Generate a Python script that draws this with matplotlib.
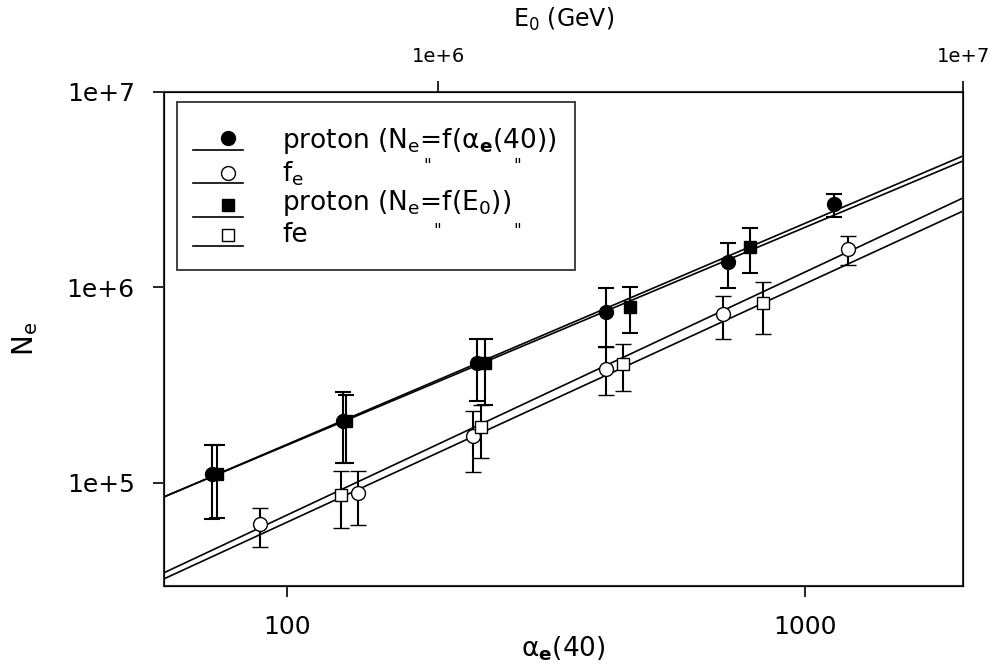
import numpy as np
import matplotlib
matplotlib.use("Agg")
import matplotlib.pyplot as plt
from matplotlib.patches import Rectangle
from matplotlib.ticker import FixedLocator, NullLocator

plt.rcParams['font.family'] = ['DejaVu Sans']
plt.rcParams['mathtext.fontset'] = 'custom'
plt.rcParams['mathtext.rm'] = 'DejaVu Sans'
plt.rcParams['mathtext.it'] = 'DejaVu Sans:italic'
plt.rcParams['mathtext.bf'] = 'DejaVu Sans:bold'

# proton, Ne = f(alpha_e(40))
alpha_p = [71.7, 128.3, 232.7, 413, 710, 1137]
ne_p = [1.11e5, 2.07e5, 4.11e5, 7.49e5, 1.35e6, 2.67e6]
ne_p_hi = [1.56e5, 2.92e5, 5.46e5, 9.94e5, 1.69e6, 3.01e6]
ne_p_lo = [6.55e4, 1.27e5, 2.62e5, 4.97e5, 9.94e5, 2.30e6]

# fe, Ne = f(alpha_e(40))
alpha_fe = [88.7, 137, 228.5, 413, 695, 1211]
ne_fe = [6.17e4, 8.89e4, 1.74e5, 3.83e5, 7.32e5, 1.57e6]
ne_fe_hi = [7.45e4, 1.15e5, 2.33e5, 4.97e5, 9.05e5, 1.83e6]
ne_fe_lo = [4.71e4, 6.10e4, 1.14e5, 2.82e5, 5.46e5, 1.30e6]

# proton, Ne = f(E0)
e0_p = [3.79e5, 6.66e5, 1.229e6, 2.32e6, 3.93e6]
ne_pe = [1.11e5, 2.07e5, 4.11e5, 7.94e5, 1.61e6]
ne_pe_hi = [1.56e5, 2.82e5, 5.46e5, 1.01e6, 2.01e6]
ne_pe_lo = [6.62e4, 1.27e5, 2.51e5, 5.85e5, 1.19e6]

# fe, Ne = f(E0)
e0_fe = [6.53e5, 1.208e6, 2.25e6, 4.16e6]
ne_fee = [8.68e4, 1.93e5, 4.06e5, 8.34e5]
ne_fee_hi = [1.15e5, 2.51e5, 5.14e5, 1.07e6]
ne_fee_lo = [5.89e4, 1.34e5, 2.96e5, 5.78e5]

# fitted lines (end points, alpha axis)
fit_x = [57.9, 2018]
fit_p1 = [8.48e4, 4.71e6]
fit_p2 = [8.48e4, 4.44e6]
fit_fe1 = [3.47e4, 2.87e6]
fit_fe2 = [3.23e4, 2.46e6]

fig = plt.figure(figsize=(9.92, 6.68), dpi=100)
ax = fig.add_axes([0.1653, 0.1228, 0.8055, 0.7395])
ax.set_xscale('log')
ax.set_yscale('log')
ax.set_xlim(57.9, 2018)
ax.set_ylim(2.97e4, 1e7)

for fy in [fit_p1, fit_p2, fit_fe1, fit_fe2]:
    ax.plot(fit_x, fy, color='black', lw=1.2, zorder=2)


def yerr(v, lo, hi):
    v = np.array(v)
    return [v - np.array(lo), np.array(hi) - v]


ebkw = dict(ecolor='black', elinewidth=1.5, capsize=6, capthick=1.5, ls='none', zorder=3)
ax.errorbar(alpha_p, ne_p, yerr=yerr(ne_p, ne_p_lo, ne_p_hi), fmt='o', ms=10,
            mfc='black', mec='black', **ebkw)
ax.errorbar(alpha_fe, ne_fe, yerr=yerr(ne_fe, ne_fe_lo, ne_fe_hi), fmt='o', ms=10,
            mfc='white', mec='black', mew=1.0, **ebkw)

ax.tick_params(axis='both', which='major', direction='out', length=8, width=1.2,
               labelsize=18)
ax.xaxis.set_major_locator(FixedLocator([100, 1000]))
ax.xaxis.set_minor_locator(NullLocator())
ax.set_xticklabels(['100', '1000'])
ax.yaxis.set_major_locator(FixedLocator([1e5, 1e6, 1e7]))
ax.yaxis.set_minor_locator(NullLocator())
ax.set_yticklabels(['1e+5', '1e+6', '1e+7'])
ax.tick_params(axis='x', pad=13)
ax.tick_params(axis='y', pad=13)
for s in ax.spines.values():
    s.set_linewidth(1.5)
    s.set_color('#333333')

ax.set_xlabel(r'α$_\mathbf{e}$(40)', fontsize=19)
ax.xaxis.set_label_coords(0.5, -0.128)
ax.xaxis.label.set_va('center')
ax.set_ylabel(r'N$_\mathregular{e}$', fontsize=20)
ax.yaxis.set_label_coords(-0.174, 0.5)
ax.yaxis.label.set_va('center')

# top axis: primary energy
ax2 = ax.twiny()
ax2.set_xscale('log')
ax2.set_xlim(3.0e5, 1e7)
ax2.errorbar(e0_p, ne_pe, yerr=yerr(ne_pe, ne_pe_lo, ne_pe_hi), fmt='s', ms=9,
             mfc='black', mec='black', **ebkw)
ax2.errorbar(e0_fe, ne_fee, yerr=yerr(ne_fee, ne_fee_lo, ne_fee_hi), fmt='s', ms=9,
             mfc='white', mec='black', mew=1.0, **ebkw)
ax2.xaxis.set_major_locator(FixedLocator([1e6, 1e7]))
ax2.xaxis.set_minor_locator(NullLocator())
ax2.set_xticklabels(['1e+6', '1e+7'])
ax2.tick_params(axis='x', direction='out', length=8, width=1.2, labelsize=14, pad=11)
ax2.set_xlabel(r'E$_\mathregular{0}$ (GeV)', fontsize=17)
ax2.xaxis.set_label_coords(0.5, 1.146)
ax2.xaxis.label.set_va('center')
ax2.set_ylim(2.97e4, 1e7)

# legend drawn by hand
ax.add_patch(Rectangle((0.0163, 0.640), 0.498, 0.340, transform=ax.transAxes,
                       fill=False, ec='#333333', lw=1.3, zorder=5))
leg_marker = ['o', 'o', 's', 's']
leg_fill = ['black', 'white', 'black', 'white']
leg_ms = [10, 10, 9, 9]
leg_my = [0.907, 0.836, 0.771, 0.711]
leg_ly = [0.883, 0.816, 0.747, 0.688]
leg_ty = [0.887, 0.818, 0.761, 0.696]
leg_text = [r'proton (N$_\mathregular{e}$=f(α$_\mathbf{e}$(40))',
            r'f$_\mathregular{e}$',
            r'proton (N$_\mathregular{e}$=f(E$_\mathregular{0}$))',
            'fe']
for m, fc, ms, my, ly, ty, t in zip(leg_marker, leg_fill, leg_ms, leg_my, leg_ly, leg_ty, leg_text):
    ax.plot([0.080], [my], marker=m, ms=ms, mfc=fc, mec='black', mew=1.0,
            transform=ax.transAxes, zorder=6)
    ax.plot([0.036, 0.099], [ly, ly], color='black', lw=1.2, transform=ax.transAxes, zorder=6)
    ax.text(0.148, ty, t, fontsize=19, transform=ax.transAxes, va='baseline', zorder=6)

# ditto marks
for qx, qy in [(0.330, 0.869), (0.442, 0.869), (0.342, 0.737), (0.442, 0.737)]:
    ax.text(qx, qy, '"', fontsize=12, transform=ax.transAxes, ha='center', va='top', zorder=6)

fig.savefig('out.png', dpi=100)
